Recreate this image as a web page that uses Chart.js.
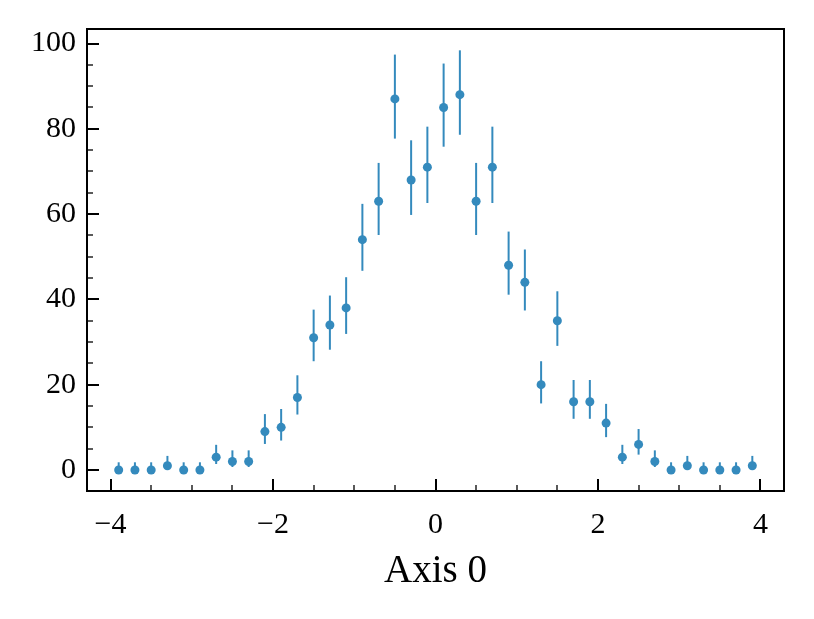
<!DOCTYPE html>
<html>
<head>
<meta charset="utf-8">
<script src="https://cdn.jsdelivr.net/npm/chart.js@4/dist/chart.umd.min.js"></script>
<style>
  html, body { margin: 0; padding: 0; background: #fff; }
  #wrap { width: 814px; height: 619px; }
</style>
</head>
<body>
<div id="wrap"><canvas id="hist"></canvas></div>
<script>
// bin centres and counts
var centres = [-3.9, -3.7, -3.5, -3.3, -3.1, -2.9, -2.7, -2.5, -2.3, -2.1,
               -1.9, -1.7, -1.5, -1.3, -1.1, -0.9, -0.7, -0.5, -0.3, -0.1,
                0.1,  0.3,  0.5,  0.7,  0.9,  1.1,  1.3,  1.5,  1.7,  1.9,
                2.1,  2.3,  2.5,  2.7,  2.9,  3.1,  3.3,  3.5,  3.7,  3.9];
var counts = [0, 0, 0, 1, 0, 0, 3, 2, 2, 9,
              10, 17, 31, 34, 38, 54, 63, 87, 68, 71,
              85, 88, 63, 71, 48, 44, 20, 35, 16, 16,
              11, 3, 6, 2, 0, 1, 0, 0, 0, 1];
// lower and upper ends of the error bars
var errLow = [0, 0, 0, 0.2, 0, 0, 1.4, 0.7, 0.7, 6.1,
              6.9, 13.0, 25.5, 28.2, 31.9, 46.7, 55.1, 77.7, 59.8, 62.6,
              75.8, 78.6, 55.1, 62.6, 41.1, 37.4, 15.6, 29.1, 12.0, 12.0,
              7.7, 1.4, 3.6, 0.7, 0, 0.2, 0, 0, 0, 0.2];
var errHigh = [1.8, 1.8, 1.8, 3.3, 1.8, 1.8, 5.9, 4.6, 4.6, 13.1,
               14.3, 22.2, 37.6, 40.9, 45.2, 62.4, 72.0, 97.4, 77.3, 80.5,
               95.3, 98.4, 72.0, 80.5, 55.9, 51.7, 25.5, 41.9, 21.1, 21.1,
               15.5, 5.9, 9.6, 4.6, 1.8, 3.3, 1.8, 1.8, 1.8, 3.3];

var xTicks = [-4, -2, 0, 2, 4];
var yTicks = [0, 20, 40, 60, 80, 100];
var xMinor = 0.5;
var yMinor = 5;

var blue = '#348ABD';
var serif = '"Liberation Serif", "DejaVu Serif", serif';

var points = [];
for (var i = 0; i < centres.length; i++) {
  points.push({x: centres[i], y: counts[i]});
}

function minus(v) {
  return String(v).replace('-', '\u2212');
}

// vertical error bars under the markers
var errorBars = {
  id: 'errorBars',
  beforeDatasetsDraw: function(chart) {
    var ctx = chart.ctx;
    var xs = chart.scales.x, ys = chart.scales.y;
    ctx.save();
    ctx.strokeStyle = blue;
    ctx.lineWidth = 2;
    for (var i = 0; i < centres.length; i++) {
      var px = xs.getPixelForValue(centres[i]);
      ctx.beginPath();
      ctx.moveTo(px, ys.getPixelForValue(errLow[i]));
      ctx.lineTo(px, ys.getPixelForValue(errHigh[i]));
      ctx.stroke();
    }
    ctx.restore();
  }
};

// frame plus inward major / minor ticks
var frame = {
  id: 'frame',
  afterDraw: function(chart) {
    var ctx = chart.ctx;
    var a = chart.chartArea;
    var xs = chart.scales.x, ys = chart.scales.y;
    ctx.save();
    ctx.strokeStyle = '#000';

    ctx.lineWidth = 1.3;
    var v;
    for (v = Math.ceil(xs.min / xMinor) * xMinor; v <= xs.max; v += xMinor) {
      var px = Math.round(xs.getPixelForValue(v));
      ctx.beginPath(); ctx.moveTo(px, a.bottom); ctx.lineTo(px, a.bottom - 6); ctx.stroke();
    }
    for (v = Math.ceil(ys.min / yMinor) * yMinor; v <= ys.max; v += yMinor) {
      var py = Math.round(ys.getPixelForValue(v));
      ctx.beginPath(); ctx.moveTo(a.left, py); ctx.lineTo(a.left + 6, py); ctx.stroke();
    }

    ctx.lineWidth = 2;
    xTicks.forEach(function(t) {
      var px = Math.round(xs.getPixelForValue(t));
      ctx.beginPath(); ctx.moveTo(px, a.bottom); ctx.lineTo(px, a.bottom - 12); ctx.stroke();
    });
    yTicks.forEach(function(t) {
      var py = Math.round(ys.getPixelForValue(t));
      ctx.beginPath(); ctx.moveTo(a.left, py); ctx.lineTo(a.left + 12, py); ctx.stroke();
    });

    ctx.lineWidth = 2;
    ctx.strokeRect(a.left, a.top, a.right - a.left, a.bottom - a.top);
    ctx.restore();
  }
};

new Chart(document.getElementById('hist'), {
  type: 'scatter',
  data: {
    datasets: [{
      data: points,
      backgroundColor: blue,
      borderWidth: 0,
      pointRadius: 4.5,
      pointHoverRadius: 4.5
    }]
  },
  options: {
    responsive: true,
    maintainAspectRatio: false,
    animation: false,
    events: [],
    layout: { padding: { top: 29, right: 30, bottom: 24, left: 0 } },
    plugins: { legend: { display: false }, tooltip: { enabled: false } },
    scales: {
      x: {
        type: 'linear',
        min: -4.29,
        max: 4.29,
        grid: { display: false, drawTicks: false },
        border: { display: false },
        afterBuildTicks: function(s) { s.ticks = xTicks.map(function(v) { return {value: v}; }); },
        afterFit: function(s) { s.height = 619 - 491 - 24; },
        ticks: {
          color: '#000',
          padding: 16,
          maxRotation: 0,
          font: { family: serif, size: 30 },
          callback: function(v) { return minus(v); }
        },
        title: {
          display: true,
          text: 'Axis 0',
          color: '#000',
          padding: 0,
          font: { family: serif, size: 39 }
        }
      },
      y: {
        type: 'linear',
        min: -4.93,
        max: 103.4,
        grid: { display: false, drawTicks: false },
        border: { display: false },
        afterBuildTicks: function(s) { s.ticks = yTicks.map(function(v) { return {value: v}; }); },
        afterFit: function(s) { s.width = 87; },
        ticks: {
          color: '#000',
          padding: 11,
          font: { family: serif, size: 30 },
          callback: function(v) { return minus(v); }
        }
      }
    }
  },
  plugins: [errorBars, frame]
});
</script>
</body>
</html>
